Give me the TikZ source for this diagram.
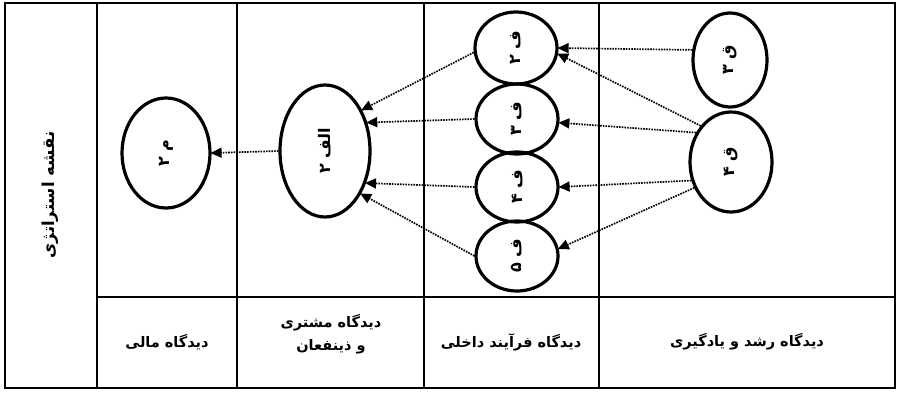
\documentclass[tikz,border=0pt]{standalone}
\usepackage{fontspec}
\newfontfamily\fa[Script=Arabic]{DejaVu Sans}
\TeXXeTstate=1
\usetikzlibrary{arrows.meta,shapes.geometric}
\begin{document}
\begin{tikzpicture}[x=1pt,y=-1pt,
  frame/.style={line width=2.8pt},
  bub/.style={ellipse,draw,line width=3.2pt,inner sep=0pt},
  blab/.style={rotate=90,font=\fa\bfseries\fontsize{16}{18}\selectfont},
  link/.style={line width=1.7pt,dash pattern=on 1.6pt off 1.1pt,
    -{Triangle[length=11pt,width=10pt]},shorten >=-1pt},
  plab/.style={font=\fa\bfseries\fontsize{14.5}{23}\selectfont,align=center}]
\useasboundingbox (0,0) rectangle (899,394);
% frame
\draw[frame] (5,3) rectangle (895,388);
\draw[frame] (97,3) -- (97,388);
\draw[frame] (237,3) -- (237,388);
\draw[frame] (424,3) -- (424,388);
\draw[frame] (599,3) -- (599,388);
\draw[frame] (97,297) -- (895,297);
% title
\node[rotate=90,font=\fa\bfseries\fontsize{16.5}{18}\selectfont] (title) at (50,195) {\beginR نقشه استراتژی\endR};
% bubbles
\node[bub,minimum width=88pt,minimum height=110pt] (m2) at (166,153) {};
\node[blab] at (m2) {\beginR م ۲\endR};
\node[bub,minimum width=90pt,minimum height=132pt] (a2) at (325,151) {};
\node[blab] at (a2) {\beginR الف ۲\endR};
\node[bub,minimum width=82pt,minimum height=72pt] (f2) at (516,48) {};
\node[blab] at (f2) {\beginR ف ۲\endR};
\node[bub,minimum width=82pt,minimum height=70pt] (f3) at (517,119) {};
\node[blab] at (f3) {\beginR ف ۳\endR};
\node[bub,minimum width=82pt,minimum height=70pt] (f4) at (517,187) {};
\node[blab] at (f4) {\beginR ف ۴\endR};
\node[bub,minimum width=82pt,minimum height=70pt] (f5) at (517,256) {};
\node[blab] at (f5) {\beginR ف ۵\endR};
\node[bub,minimum width=74pt,minimum height=94pt] (q3) at (730,60) {};
\node[blab] at (q3) {\beginR ق ۳\endR};
\node[bub,minimum width=82pt,minimum height=100pt] (q4) at (731,162) {};
\node[blab] at (q4) {\beginR ق ۴\endR};
% connectors
\draw[link] (a2.west) -- (m2.east);
\draw[link] (f2.186) -- (a2.48);
\draw[link] (f3.west) -- (a2.34);
\draw[link] (f4.west) -- (a2.-38);
\draw[link] (f5.west) -- (a2.-50);
\draw[link] (q3.165) -- (f2.east);
\draw[link] (q4.130) -- (f2.-8);
\draw[link] (q4.140) -- (f3.-5);
\draw[link] (q4.205) -- (f4.east);
\draw[link] (q4.215) -- (f5.10);
% perspective labels
\node[plab] (p1) at (167,342) {\beginR دیدگاه مالی\endR};
\node[plab] (p2) at (331,334) {\beginR دیدگاه مشتری\endR\\\beginR و ذینفعان\endR};
\node[plab] (p3) at (511,342) {\beginR دیدگاه فرآیند داخلی\endR};
\node[plab] (p4) at (747,342) {\beginR دیدگاه رشد و یادگیری\endR};
\end{tikzpicture}
\end{document}
